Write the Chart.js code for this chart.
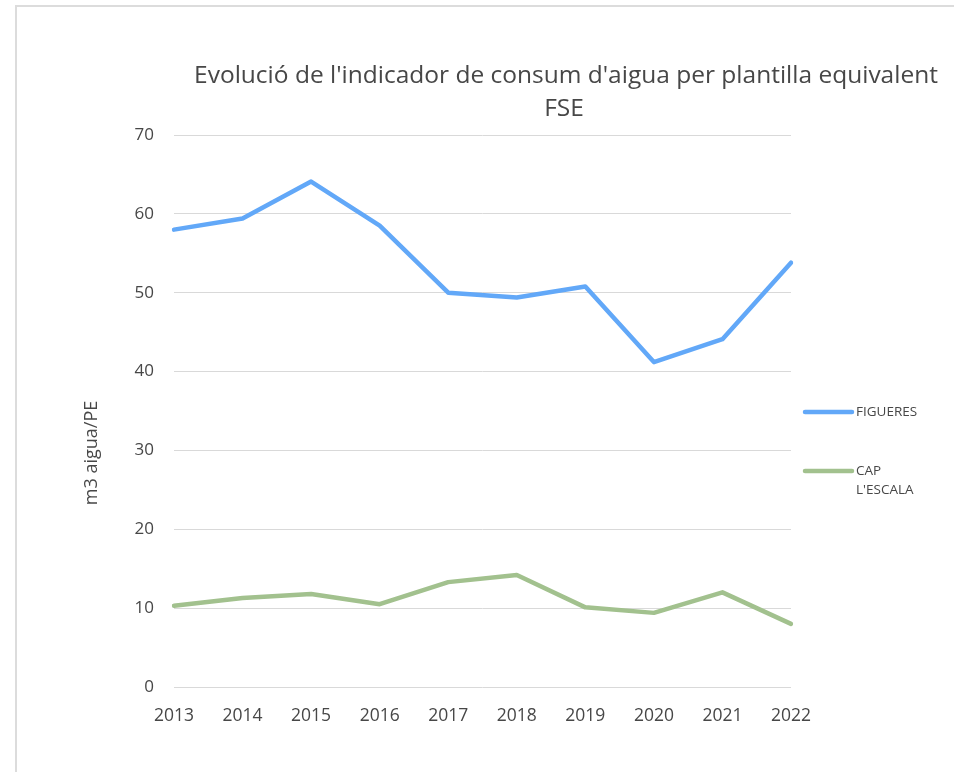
<!DOCTYPE html>
<html>
<head>
<meta charset="utf-8">
<script src="https://cdn.jsdelivr.net/npm/chart.js@4.4.1/dist/chart.umd.min.js"></script>
<style>
  html, body { margin: 0; padding: 0; background: #ffffff; overflow: hidden; width: 954px; height: 772px; }
  #frame { position: absolute; left: 15px; top: 5px; width: 1000px; height: 800px; border-left: 2px solid #dcdcdc; border-top: 2px solid #dcdcdc; box-sizing: border-box; }
  #wrap { position: absolute; left: 16px; top: 6px; width: 938px; height: 766px; }
</style>
</head>
<body>
<div id="frame"></div>
<div id="wrap"><canvas id="c" width="938" height="766"></canvas></div>
<script>
// ---- data ----
const years = ['2013', '2014', '2015', '2016', '2017', '2018', '2019', '2020', '2021', '2022'];
const figueres = [58.0, 59.4, 64.1, 58.5, 50.0, 49.4, 50.8, 41.2, 44.1, 53.8];
const capLEscala = [10.3, 11.3, 11.8, 10.5, 13.3, 14.2, 10.1, 9.4, 12.0, 8.0];
const seriesNames = ['FIGUERES', "CAP L'ESCALA"];
const yMin = 0, yMax = 70, yStep = 10;
const titleLines = ["Evolució de l'indicador de consum d'aigua per plantilla equivalent", 'FSE'];
const yAxisTitle = 'm3 aigua/PE';

const FONT = '"Open Sans", "Liberation Sans", sans-serif';
const TEXT = '#474747';

const textPlugin = {
  id: 'textPlugin',
  afterDraw(chart) {
    const ctx = chart.ctx;
    const ca = chart.chartArea;
    ctx.save();
    ctx.fillStyle = TEXT;
    // title
    ctx.font = '24.5px ' + FONT;
    ctx.textAlign = 'center';
    ctx.textBaseline = 'middle';
    ctx.fillText(titleLines[0], 550, 70);
    ctx.fillText(titleLines[1], 548, 103);
    // y axis title
    ctx.save();
    ctx.translate(76, 447);
    ctx.rotate(-Math.PI / 2);
    ctx.font = '18px ' + FONT;
    ctx.fillText(yAxisTitle, 0, 0);
    ctx.restore();
    // legend
    ctx.font = '13.5px ' + FONT;
    ctx.textAlign = 'left';
    const lx0 = ca.right + 14, lx1 = ca.right + 61;
    const rows = [406, 465];
    chart.data.datasets.forEach((ds, i) => {
      const y = rows[i];
      ctx.strokeStyle = ds.borderColor;
      ctx.lineWidth = 4.5;
      ctx.lineCap = 'round';
      ctx.beginPath();
      ctx.moveTo(lx0, y);
      ctx.lineTo(lx1, y);
      ctx.stroke();
      // wrap label
      const words = ds.label.split(' ');
      const lines = [];
      let cur = '';
      words.forEach(w => {
        const t = cur ? cur + ' ' + w : w;
        if (cur && ctx.measureText(t).width > 72) { lines.push(cur); cur = w; } else { cur = t; }
      });
      if (cur) lines.push(cur);
      lines.forEach((ln, k) => ctx.fillText(ln, lx1 + 4, y + k * 19));
    });
    ctx.restore();
  }
};

new Chart(document.getElementById('c'), {
  type: 'line',
  data: {
    labels: years,
    datasets: [
      { label: seriesNames[0], data: figueres, borderColor: '#62a8f8', backgroundColor: '#62a8f8' },
      { label: seriesNames[1], data: capLEscala, borderColor: '#a2c18e', backgroundColor: '#a2c18e' }
    ]
  },
  options: {
    responsive: false,
    animation: false,
    events: [],
    layout: { padding: { left: 0, right: 163, top: 129, bottom: 35 } },
    elements: {
      line: { borderWidth: 4.5, tension: 0, borderJoinStyle: 'round', borderCapStyle: 'round' },
      point: { radius: 0, hoverRadius: 0 }
    },
    plugins: { legend: { display: false }, title: { display: false }, tooltip: { enabled: false } },
    scales: {
      x: {
        offset: false,
        grid: { display: false, drawTicks: false },
        border: { display: false },
        ticks: { color: TEXT, font: { family: FONT, size: 17.5 }, padding: 19, maxRotation: 0, autoSkip: false },
        afterFit(s) { s.height = 50; }
      },
      y: {
        min: yMin, max: yMax,
        grid: { color: '#d9d9d9', lineWidth: 1, drawTicks: false },
        border: { display: false },
        ticks: { stepSize: yStep, color: TEXT, font: { family: FONT, size: 17 }, padding: 20 },
        afterFit(s) { s.width = 158; }
      }
    }
  },
  plugins: [textPlugin]
});
</script>
</body>
</html>
